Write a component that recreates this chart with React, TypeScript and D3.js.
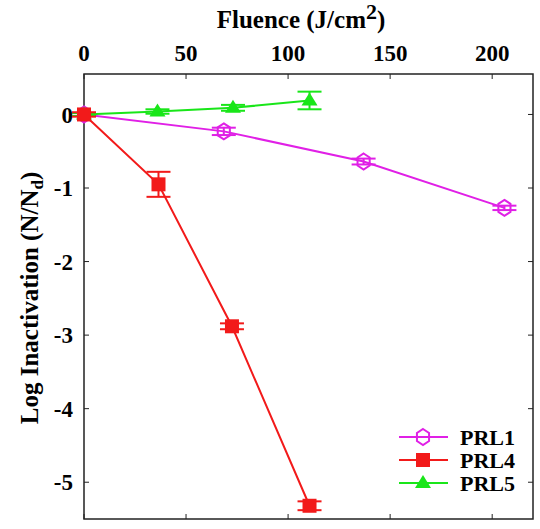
import React from "react";
import * as d3 from "d3";

// fluence (J/cm2) and log inactivation
const prl1Fluence = [0, 68.5, 137, 206];
const prl1Log = [0, -0.23, -0.64, -1.27];
const prl1Err = [0.02, 0.05, 0.04, 0.03];

const prl4Fluence = [0, 36.5, 72.5, 110.5];
const prl4Log = [0, -0.95, -2.88, -5.32];
const prl4Err = [0.03, 0.17, 0.04, 0.06];

const prl5Fluence = [0, 36, 73, 110.5];
const prl5Log = [0, 0.04, 0.09, 0.19];
const prl5Err = [0.02, 0.03, 0.04, 0.12];

const xTicks = [0, 50, 100, 150, 200];
const yTicks = [0, -1, -2, -3, -4, -5];
const seriesNames = ["PRL1", "PRL4", "PRL5"];
const seriesColors = ["#e020e6", "#f21a1a", "#19e619"];

const W = 540;
const H = 529;
const m = { left: 84, right: 533, top: 74, bottom: 519 };
const font = '"Liberation Serif", "Times New Roman", Times, serif';

function Marker({ kind, x, y, color }: { kind: string; x: number; y: number; color: string }) {
  if (kind === "PRL1") {
    const pts = d3.range(6).map((i) => {
      const a = (Math.PI / 3) * i;
      return [x + 7 * Math.sin(a), y - 8 * Math.cos(a)];
    });
    return <polygon points={pts.map((p) => p.join(",")).join(" ")} fill="none" stroke={color} strokeWidth={2} />;
  }
  if (kind === "PRL4") {
    return <rect x={x - 7} y={y - 7} width={14} height={14} fill={color} />;
  }
  return <polygon points={`${x},${y - 8} ${x + 8},${y + 5} ${x - 8},${y + 5}`} fill={color} />;
}

function App() {
  const x = d3.scaleLinear().domain([0, 220]).range([m.left, m.right]);
  const y = d3.scaleLinear().domain([-5.5, 0.55]).range([m.bottom, m.top]);

  const series = [
    { name: seriesNames[0], xs: prl1Fluence, ys: prl1Log, es: prl1Err, color: seriesColors[0] },
    { name: seriesNames[1], xs: prl4Fluence, ys: prl4Log, es: prl4Err, color: seriesColors[1] },
    { name: seriesNames[2], xs: prl5Fluence, ys: prl5Log, es: prl5Err, color: seriesColors[2] },
  ];
  // red drawn last so its square sits on top at the origin
  const drawOrder = [series[0], series[2], series[1]];

  const tick = 5;

  return (
    <svg width={W} height={H} style={{ display: "block", position: "absolute", left: 0, top: 0, fontFamily: font }}>
      <rect width={W} height={H} fill="#fff" />

      {/* frame */}
      <rect
        x={m.left}
        y={m.top}
        width={m.right - m.left}
        height={m.bottom - m.top}
        fill="none"
        stroke="#222"
        strokeWidth={1.5}
      />

      {xTicks.map((t) => (
        <g key={"x" + t}>
          <line x1={x(t)} x2={x(t)} y1={m.top} y2={m.top + tick} stroke="#222" />
          <line x1={x(t)} x2={x(t)} y1={m.bottom} y2={m.bottom - tick} stroke="#222" />
          <text x={x(t)} y={61} textAnchor="middle" fontSize={23} fontWeight="bold">
            {t}
          </text>
        </g>
      ))}

      {yTicks.map((t) => (
        <g key={"y" + t}>
          <line x1={m.left} x2={m.left + tick} y1={y(t)} y2={y(t)} stroke="#222" />
          <line x1={m.right} x2={m.right - tick} y1={y(t)} y2={y(t)} stroke="#222" />
          <text x={73} y={y(t)} dy="0.35em" textAnchor="end" fontSize={23} fontWeight="bold">
            {t}
          </text>
        </g>
      ))}

      <text x={301} y={28} textAnchor="middle" fontSize={25} fontWeight="bold">
        Fluence (J/cm<tspan dy={-9} fontSize={22}>2</tspan>
        <tspan dy={9}>)</tspan>
      </text>

      <text
        transform={`translate(38,${298}) rotate(-90)`}
        textAnchor="middle"
        fontSize={25}
        fontWeight="bold"
      >
        Log Inactivation (N/N<tspan dy={5} fontSize={17}>d</tspan>
        <tspan dy={-5}>)</tspan>
      </text>

      {drawOrder.map((s) => {
        const path = d3
          .line<number>()
          .x((_, i) => x(s.xs[i]))
          .y((d) => y(d))(s.ys);
        return (
          <g key={s.name}>
            <path d={path || ""} fill="none" stroke={s.color} strokeWidth={2} />
            {s.ys.map((v, i) => (
              <g key={i} stroke={s.color} strokeWidth={2}>
                <line x1={x(s.xs[i])} x2={x(s.xs[i])} y1={y(v + s.es[i])} y2={y(v - s.es[i])} />
                <line x1={x(s.xs[i]) - 12} x2={x(s.xs[i]) + 12} y1={y(v + s.es[i])} y2={y(v + s.es[i])} />
                <line x1={x(s.xs[i]) - 12} x2={x(s.xs[i]) + 12} y1={y(v - s.es[i])} y2={y(v - s.es[i])} />
              </g>
            ))}
            {s.ys.map((v, i) => (
              <Marker key={"m" + i} kind={s.name} x={x(s.xs[i])} y={y(v)} color={s.color} />
            ))}
          </g>
        );
      })}

      {/* legend */}
      {series.map((s, i) => {
        const ly = 437 + i * 23;
        return (
          <g key={"lg" + s.name}>
            <line x1={399} x2={448} y1={ly} y2={ly} stroke={s.color} strokeWidth={2} />
            <Marker kind={s.name} x={423} y={ly} color={s.color} />
            <text x={460} y={ly} dy="0.35em" fontSize={22} fontWeight="bold">
              {s.name}
            </text>
          </g>
        );
      })}
    </svg>
  );
}

export default App;
